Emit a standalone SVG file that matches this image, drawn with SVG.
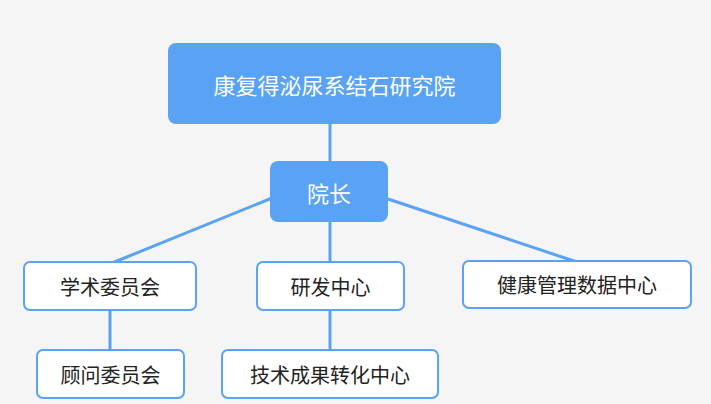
<svg xmlns="http://www.w3.org/2000/svg" width="711" height="404" viewBox="0 0 711 404">
<style>
.main{fill:#5aa2f4}
.box{fill:#fff;stroke:#5aa2f4;stroke-width:2}
.wt{fill:#fff;font-family:"Noto Sans CJK SC",sans-serif;font-size:22px;text-anchor:middle;dominant-baseline:central}
.bt{fill:#222;font-family:"Noto Sans CJK SC",sans-serif;font-size:20px;text-anchor:middle;dominant-baseline:central}
#edges line{stroke:#5aa2f4;stroke-width:3}
</style>
<rect width="711" height="404" fill="#f5f5f5"/>
<g id="edges">
<line x1="330" y1="124" x2="330" y2="161"/>
<line x1="272" y1="198" x2="112" y2="263"/>
<line x1="330" y1="222" x2="330" y2="263"/>
<line x1="388" y1="199" x2="577" y2="262"/>
<line x1="110" y1="310" x2="110" y2="350"/>
<line x1="330" y1="310" x2="330" y2="350"/>
</g>
<g id="root"><rect class="main" x="168" y="43" width="333" height="81" rx="8"/><text class="wt" x="334.5" y="83.5">康复得泌尿系结石研究院</text></g>
<g id="dean"><rect class="main" x="270" y="161" width="118" height="61" rx="8"/><text class="wt" x="329" y="191.5">院长</text></g>
<g id="academic"><rect class="box" x="24" y="262" width="172" height="48" rx="6"/><text class="bt" x="110" y="286">学术委员会</text></g>
<g id="rnd"><rect class="box" x="257" y="262" width="147" height="48" rx="6"/><text class="bt" x="330.5" y="286">研发中心</text></g>
<g id="health"><rect class="box" x="463" y="261" width="228" height="47" rx="6"/><text class="bt" x="577" y="284.5">健康管理数据中心</text></g>
<g id="advisory"><rect class="box" x="37" y="350" width="147" height="48" rx="6"/><text class="bt" x="110.5" y="374">顾问委员会</text></g>
<g id="transfer"><rect class="box" x="222" y="350" width="216" height="48" rx="6"/><text class="bt" x="330" y="374">技术成果转化中心</text></g>
</svg>
